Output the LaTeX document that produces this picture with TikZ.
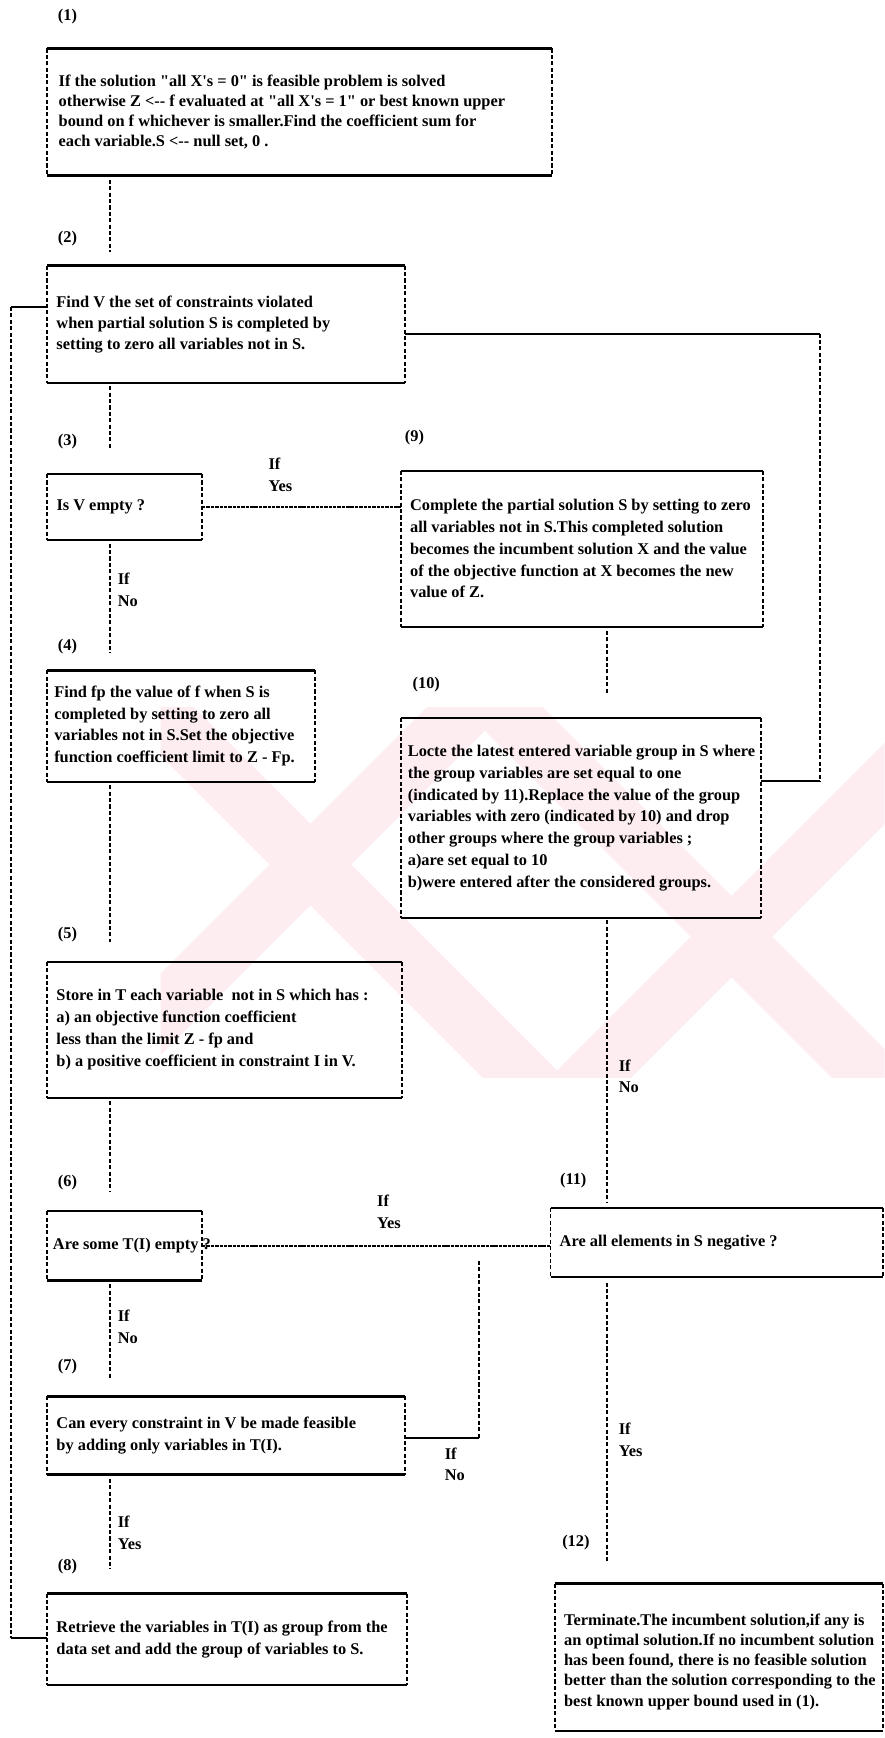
\documentclass[tikz,border=0pt]{standalone}
\usepackage{fontspec}
\setmainfont{Liberation Serif}[Ligatures=TeXOff]
\newcommand\flowfont{\bfseries\fontsize{10.5}{14}\selectfont}
\definecolor{wm}{RGB}{253,236,240}
\newcommand\flowframe[1]{%
  \draw[topline] (#1.north west) -- (#1.north east);
  \draw[sideline] (#1.north west) -- (#1.south west);
  \draw[sideline] (#1.north east) -- (#1.south east);
  \draw[botline] (#1.south west) -- (#1.south east);
}
\tikzset{
  topline/.style={line width=1.6pt},
  botline/.style={line width=1.4pt},
  sideline/.style={line width=1.2pt, dash pattern=on 2.6pt off 1.5pt},
  vline/.style={line width=1.2pt, dash pattern=on 2.6pt off 1.5pt},
  hline/.style={line width=1.3pt},
  yesline/.style={line width=0.8pt, dash pattern=on 2.2pt off 0.6pt},
  frame/.style={draw=none, inner sep=0pt},
  txt/.style={font=\flowfont, align=left, inner sep=0pt, anchor=west},
  lab/.style={font=\flowfont, align=left, inner sep=0pt, anchor=west},
}
\begin{document}
\begin{tikzpicture}[x=0.025cm, y=-0.025cm]
\useasboundingbox[fill=white] (0,0) rectangle (798,1568);
% faint watermark
\begin{scope}
  \clip (145,638) rectangle (798,972);
  \draw[wm, line width=1.3cm] (30,530) -- (530,1030);
  \draw[wm, line width=1.3cm] (530,530) -- (30,1030);
  \draw[wm, line width=1.3cm] (410,595) -- (910,1095);
  \draw[wm, line width=1.3cm] (910,595) -- (410,1095);
\end{scope}
% boxes
\node[frame, minimum width=11.375cm, minimum height=2.85cm] (b1) at (270.5,101) {};
\node[frame, minimum width=8.05cm, minimum height=2.625cm] (b2) at (204,292.5) {};
\node[frame, minimum width=3.475cm, minimum height=1.475cm] (b3) at (112.5,457.5) {};
\node[frame, minimum width=8.15cm, minimum height=3.5cm] (b9) at (525,495) {};
\node[frame, minimum width=6.025cm, minimum height=2.5cm] (b4) at (163.5,655) {};
\node[frame, minimum width=8.1cm, minimum height=4.5cm] (b10) at (524,738) {};
\node[frame, minimum width=7.975cm, minimum height=3.05cm] (b5) at (202.5,929) {};
\node[frame, minimum width=3.475cm, minimum height=1.55cm] (b6) at (112.5,1124) {};
\node[frame, minimum width=7.475cm, minimum height=1.55cm] (b11) at (646.5,1121) {};
\node[frame, minimum width=8.05cm, minimum height=1.75cm] (b7) at (204,1295) {};
\node[frame, minimum width=8.1cm, minimum height=2.05cm] (b8) at (205,1479) {};
\node[frame, minimum width=7.375cm, minimum height=3.3cm] (b12) at (648.5,1495) {};
\foreach \b in {b1,b2,b3,b9,b4,b10,b5,b6,b11,b7,b8,b12} {\flowframe{\b}}
% texts
\node[txt, font=\bfseries\fontsize{10.5}{13}\selectfont] (t1) at ([xshift=0.25cm]b1.west) {If the solution "all X's = 0" is feasible problem is solved\\otherwise Z <-- f evaluated at "all X's = 1" or best known upper\\bound on f whichever is smaller.Find the coefficient sum for\\each variable.S <-- null set, 0 .};
\node[txt, font=\bfseries\fontsize{10.5}{13.5}\selectfont] (t2) at ([xshift=0.2cm]b2.west) {Find V the set of constraints violated\\when partial solution S is completed by\\setting to zero all variables not in S.};
\node[txt] (t3) at ([xshift=0.2cm]b3.west) {Is V empty ?};
\node[txt] (t9) at ([xshift=0.2cm]b9.west) {Complete the partial solution S by setting to zero\\all variables not in S.This completed solution\\becomes the incumbent solution X and the value\\of the objective function at X becomes the new\\value of Z.};
\node[txt] (t4) at ([xshift=0.15cm]b4.west) {Find fp the value of f when S is\\completed by setting to zero all\\variables not in S.Set the objective\\function coefficient limit to Z - Fp.};
\node[txt] (t10) at ([xshift=0.15cm]b10.west) {Locte the latest entered variable group in S where\\the group variables are set equal to one\\(indicated by 11).Replace the value of the group\\variables with zero (indicated by 10) and drop\\other groups where the group variables ;\\a)are set equal to 10\\b)were entered after the considered groups.};
\node[txt] (t5) at ([xshift=0.2cm]b5.west) {Store in T each variable\ \ not in S which has :\\a) an objective function coefficient\\less than the limit Z - fp and\\b) a positive coefficient in constraint I in V.};
\node[txt] (t6) at ([xshift=0.12cm]b6.west) {Are some T(I) empty ?};
\node[txt] (t11) at ([xshift=0.2cm]b11.west) {Are all elements in S negative ?};
\node[txt] (t7) at ([xshift=0.2cm]b7.west) {Can every constraint in V be made feasible\\by adding only variables in T(I).};
\node[txt] (t8) at ([xshift=0.2cm]b8.west) {Retrieve the variables in T(I) as group from the\\data set and add the group of variables to S.};
\node[txt, font=\bfseries\fontsize{10.5}{13}\selectfont] (t12) at ([xshift=0.2cm, yshift=-0.1cm]b12.west) {Terminate.The incumbent solution,if any is\\an optimal solution.If no incumbent solution\\has been found, there is no feasible solution\\better than the solution corresponding to the\\best known upper bound used in (1).};
% step numbers
\node[lab] (n1) at (52,15) {(1)};
\node[lab] (n2) at (52,215) {(2)};
\node[lab] (n3) at (52,398) {(3)};
\node[lab] (n4) at (52,583) {(4)};
\node[lab] (n5) at (52,843) {(5)};
\node[lab] (n6) at (52,1067) {(6)};
\node[lab] (n7) at (52,1233) {(7)};
\node[lab] (n8) at (52,1413) {(8)};
\node[lab] (n9) at (365,395) {(9)};
\node[lab] (n10) at (372,618) {(10)};
\node[lab] (n11) at (505,1065) {(11)};
\node[lab] (n12) at (507,1392) {(12)};
% branch labels
\node[lab] (c3y) at (242,428) {If\\Yes};
\node[lab] (c3n) at (106,532) {If\\No};
\node[lab] (c10n) at (558,971) {If\\No};
\node[lab] (c6y) at (340,1093) {If\\Yes};
\node[lab] (c6n) at (106,1197) {If\\No};
\node[lab] (c7n) at (401,1321) {If\\No};
\node[lab] (c7y) at (106,1383) {If\\Yes};
\node[lab] (c11y) at (558,1299) {If\\Yes};
% connectors
\coordinate (spine) at (99,0);
\coordinate (rspine) at (548,0);
\draw[vline, shorten <=0.1cm, shorten >=0.3cm] (b1.south -| spine) -- (b2.north -| spine);
\draw[vline, shorten <=0.08cm, shorten >=0.55cm] (b2.south -| spine) -- (b3.north -| spine);
\draw[vline, shorten <=0.08cm, shorten >=0.4cm] (b3.south -| spine) -- (b4.north -| spine);
\draw[vline, shorten <=0.08cm, shorten >=0.45cm] (b4.south -| spine) -- (b5.north -| spine);
\draw[vline, shorten <=0.08cm, shorten >=0.45cm] (b5.south -| spine) -- (b6.north -| spine);
\draw[vline, shorten <=0.08cm, shorten >=0.4cm] (b6.south -| spine) -- (b7.north -| spine);
\draw[vline, shorten <=0.1cm, shorten >=0.55cm] (b7.south -| spine) -- (b8.north -| spine);
\draw[vline, shorten <=0.1cm, shorten >=0.55cm] (b9.south -| rspine) -- (b10.north -| rspine);
\draw[vline, shorten <=0.05cm, shorten >=0.12cm] (b10.south -| rspine) -- (b11.north -| rspine);
\draw[vline, shorten <=0.12cm, shorten >=0.5cm] (b11.south -| rspine) -- (b12.north -| rspine);
\draw[yesline] (b3.east) -- (b3.east -| b9.west);
\draw[yesline] (b6.east) -- (b6.east -| b11.west);
% right loop from (2) to (10)
\coordinate (rtop) at (740,301);
\coordinate (rbot) at (740,705);
\draw[hline] (b2.east |- rtop) -- (rtop);
\draw[vline] (rtop) -- (rbot);
\draw[hline] (rbot) -- (rbot -| b10.east);
% left loop from (8) to (2)
\coordinate (ltop) at (10,277);
\coordinate (lbot) at (10,1478);
\draw[hline] (b2.west |- ltop) -- (ltop);
\draw[vline] (ltop) -- (lbot);
\draw[hline] (lbot) -- (lbot -| b8.west);
% (7) No branch
\coordinate (nk) at (432,1297);
\draw[hline] (b7.east |- nk) -- (nk);
\draw[vline, shorten >=0.35cm] (nk) -- (nk |- b6.east);
\end{tikzpicture}
\end{document}
